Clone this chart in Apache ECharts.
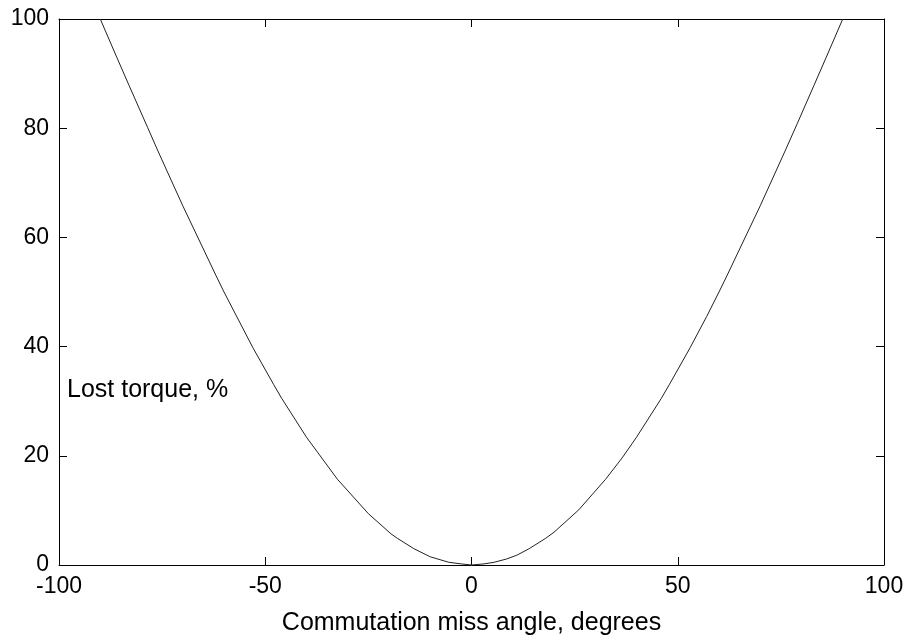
<!DOCTYPE html>
<html>
<head>
<meta charset="utf-8">
<script src="https://cdn.jsdelivr.net/npm/echarts@6/dist/echarts.min.js"></script>
<style>
html,body{margin:0;padding:0;background:#fff;}
#chart{width:908px;height:635px;}
</style>
</head>
<body>
<div id="chart"></div>
<script>
// Commutation miss angle (degrees)
const angles = [-90, -86, -83, -78.5, -76, -70, -62, -60, -53, -48, -46, -40, -32.5, -25, -19.5, -18, -14, -10, -5.5, -2.5, 0,
  3, 5.5, 8.5, 11, 14, 18, 20, 26, 32.5, 36.5, 40, 46, 48, 53, 57, 60, 62, 70, 76, 79, 83, 86, 90];
// Lost torque (%)
const lostTorque = [100, 93.0, 87.8, 80.1, 75.8, 65.8, 53.1, 50, 39.8, 33.1, 30.5, 23.4, 15.7, 9.4, 5.7, 4.9, 3.0, 1.5, 0.5, 0.2, 0,
  0.2, 0.5, 1.1, 1.8, 3.0, 4.9, 6.0, 10.1, 15.7, 19.6, 23.4, 30.5, 33.1, 39.8, 45.5, 50, 53.1, 65.8, 75.8, 80.9, 87.8, 93.0, 100];
const xTicks = [-100, -50, 0, 50, 100];
const yTicks = [0, 20, 40, 60, 80, 100];
const xTitle = 'Commutation miss angle, degrees';
const yTitle = 'Lost torque, %';

const FONT = 'Liberation Sans, Arial, sans-serif';
const chart = echarts.init(document.getElementById('chart'), null, {renderer: 'canvas'});
const lineStyle = {color: '#000', width: 1};
const baseX = {
  type: 'value', min: xTicks[0], max: xTicks[xTicks.length - 1], interval: 50,
  axisLine: {show: true, onZero: false, lineStyle: lineStyle},
  axisTick: {show: true, inside: true, length: 8, lineStyle: lineStyle},
  splitLine: {show: false}
};
const baseY = {
  type: 'value', min: yTicks[0], max: yTicks[yTicks.length - 1], interval: 20,
  axisLine: {show: true, onZero: false, lineStyle: lineStyle},
  axisTick: {show: true, inside: true, length: 8, lineStyle: lineStyle},
  splitLine: {show: false}
};
chart.setOption({
  animation: false,
  backgroundColor: '#fff',
  grid: {left: 59, right: 24, top: 19, bottom: 70, containLabel: false, outerBoundsMode: 'none'},
  xAxis: [
    Object.assign({}, baseX, {
      position: 'bottom',
      axisLabel: {show: true, color: '#000', fontFamily: FONT, fontSize: 23, margin: 10},
      name: xTitle, nameLocation: 'middle', nameGap: 46,
      nameTextStyle: {color: '#000', fontFamily: FONT, fontSize: 25}
    }),
    Object.assign({}, baseX, {position: 'top', axisLabel: {show: false}})
  ],
  yAxis: [
    Object.assign({}, baseY, {
      position: 'left',
      axisLabel: {show: true, color: '#000', fontFamily: FONT, fontSize: 23, margin: 10}
    }),
    Object.assign({}, baseY, {position: 'right', axisLabel: {show: false}})
  ],
  graphic: [{
    type: 'text', left: 67, top: 378,
    style: {text: yTitle, fill: '#000', font: '25px ' + FONT}
  }],
  series: [{
    type: 'line',
    data: angles.map((a, i) => [a, lostTorque[i]]),
    showSymbol: false,
    symbol: 'none',
    lineStyle: {color: '#222', width: 1},
    clip: true
  }]
});
</script>
</body>
</html>
